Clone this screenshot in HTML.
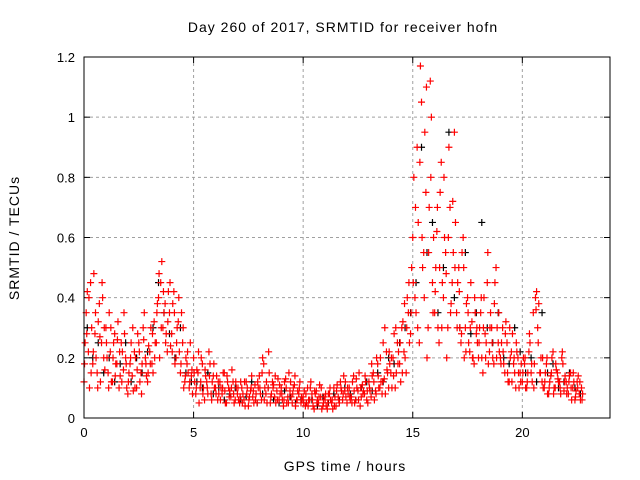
<!DOCTYPE html>
<html><head><meta charset="utf-8"><style>
body{margin:0;background:#fff;}
svg{display:block;font-family:"Liberation Sans",sans-serif;}
</style></head><body>
<svg id="chart" width="640" height="480">
<text x="343" y="32" font-size="14" letter-spacing="1" text-anchor="middle">Day 260 of 2017, SRMTID for receiver hofn</text>
<text x="345" y="471" font-size="14" letter-spacing="1" text-anchor="middle">GPS time / hours</text>
<text transform="translate(19,238) rotate(-90)" font-size="14" letter-spacing="1" text-anchor="middle">SRMTID / TECUs</text>
<g id="grid"></g>
<g id="ticks"></g>
<g id="marks"></g>
<rect x="84" y="57" width="526" height="361" fill="none" stroke="#000" stroke-width="1"/>
</svg>
<script>
const xTicks=[0,5,10,15,20];
const yTicks=[0,0.2,0.4,0.6,0.8,1,1.2];
const yTickLabels=["0","0.2","0.4","0.6","0.8","1","1.2"];
const red1Start=0, red1Step=0.1;
const red1=[.12,.35,.22,.45,.18,.28,.15,.38,.25,.2,
.3,.15,.22,.12,.28,.18,.1,.25,.16,.2,
.08,.18,.14,.22,.1,.25,.15,.3,.2,.12,
.22,.18,.32,.25,.4,.45,.3,.38,.22,.35,
.28,.42,.2,.32,.15,.25,.12,.18,.1,.14,
.2,.08,.15,.1,.18,.06,.12,.22,.08,.14,
.1,.06,.12,.08,.15,.05,.1,.07,.12,.06,
.08,.05,.1,.06,.12,.04,.09,.07,.11,.05,
.14,.06,.18,.08,.1,.05,.12,.07,.09,.06,
.1,.04,.13,.07,.09,.05,.11,.06,.08,.05,
.07,.04,.1,.06,.08,.03,.09,.05,.07,.04,
.06,.03,.08,.05,.1,.04,.07,.12,.06,.09,
.05,.1,.07,.14,.06,.09,.04,.11,.08,.06,
.12,.07,.15,.09,.18,.1,.08,.13,.22,.1,
.15,.2,.1,.25,.18,.3,.22,.15,.35,.28,
.6,.4,.9,.25,1.05,.55,.75,.3,1.12,.45,
.35,.62,.25,.85,.4,.55,.3,.7,.45,.95,
.35,.5,.25,.6,.3,.4,.22,.32,.18,.28,
.2,.35,.15,.28,.45,.22,.3,.18,.5,.25,
.2,.3,.15,.25,.12,.22,.18,.1,.2,.15,
.12,.18,.1,.22,.15,.35,.4,.3,.15,.12,
.1,.18,.08,.14,.22,.1,.15,.12,.2,.09,
.12,.08,.15,.1,.06,.12,.08,.1];
const red2Start=0.05, red2Step=0.1;
const red2=[.25,.42,.1,.3,.48,.2,.32,.12,.4,.16,
.2,.35,.12,.25,.18,.32,.14,.22,.28,.1,
.15,.25,.09,.2,.28,.12,.18,.35,.14,.24,
.3,.15,.25,.38,.2,.52,.35,.28,.42,.24,
.38,.18,.3,.22,.35,.1,.2,.15,.25,.08,
.12,.16,.05,.2,.1,.14,.08,.18,.12,.1,
.14,.08,.1,.15,.05,.12,.09,.16,.05,.1,
.06,.12,.08,.04,.1,.07,.14,.05,.08,.1,
.08,.2,.1,.05,.15,.08,.11,.05,.13,.08,
.06,.12,.05,.15,.07,.1,.04,.09,.12,.06,
.09,.05,.06,.12,.04,.08,.06,.11,.03,.07,
.04,.08,.06,.03,.07,.11,.05,.09,.14,.07,
.08,.06,.12,.05,.1,.15,.07,.09,.12,.05,
.09,.14,.06,.2,.1,.12,.25,.08,.15,.18,
.1,.28,.15,.22,.12,.32,.2,.4,.25,.5,
.8,.35,.65,1.17,.5,.95,.2,.7,1.0,.6,
.5,.3,.75,.45,.6,.2,.9,.38,.55,.65,
.45,.3,.55,.2,.38,.25,.45,.2,.35,.25,
.3,.2,.4,.25,.18,.35,.2,.45,.3,.22,
.25,.18,.32,.12,.2,.28,.15,.22,.1,.18,
.2,.1,.15,.25,.12,.18,.42,.38,.2,.1,
.15,.08,.12,.2,.1,.16,.12,.08,.18,.14,
.1,.14,.06,.12,.09,.14,.06,.08];
const red3Start=0.025, red3Step=0.1;
const red3=[.18,.28,.4,.15,.22,.35,.1,.27,.45,.3,
.25,.1,.3,.2,.14,.26,.22,.12,.35,.18,
.12,.2,.3,.1,.16,.22,.08,.26,.18,.15,
.18,.28,.2,.35,.48,.3,.42,.25,.32,.45,
.22,.35,.25,.4,.18,.3,.14,.22,.12,.16,
.15,.1,.22,.12,.08,.16,.1,.14,.06,.18,
.08,.12,.06,.1,.09,.14,.07,.1,.08,.12,
.1,.07,.05,.12,.08,.06,.1,.09,.06,.12,
.1,.15,.06,.12,.22,.07,.1,.14,.06,.11,
.08,.06,.1,.05,.12,.08,.14,.06,.1,.07,
.05,.08,.04,.1,.06,.09,.05,.07,.1,.05,
.08,.05,.1,.06,.04,.09,.06,.1,.08,.12,
.1,.07,.05,.09,.13,.06,.1,.08,.14,.09,
.1,.18,.12,.08,.14,.2,.12,.3,.16,.22,
.2,.14,.3,.18,.25,.15,.38,.3,.45,.35,
.45,.7,.3,.85,.6,.4,1.1,.55,.8,.35,
.42,.7,.5,.3,.8,.48,.6,.35,.72,.5,
.3,.42,.28,.5,.22,.35,.3,.2,.4,.3,
.25,.4,.3,.2,.55,.3,.25,.38,.2,.35,
.18,.22,.28,.15,.3,.12,.2,.25,.15,.12,
.15,.2,.12,.28,.18,.1,.36,.25,.15,.2,
.12,.2,.1,.15,.08,.18,.13,.1,.22,.12,
.08,.12,.1,.15,.07,.1,.12,.06];
const blackStart=0.15, blackStep=0.25;
const black=[.3,.2,.25,.15,.2,.12,.18,.25,.12,.2,.15,.22,.3,.45,.35,.28,.2,.3,.15,.12,
.12,.1,.15,.08,.1,.06,.08,.1,.06,.07,.12,.05,.08,.1,.06,.05,.09,.07,.05,.06,
.05,.06,.04,.07,.05,.08,.06,.1,.08,.06,.1,.12,.09,.15,.12,.2,.18,.25,.3,.35,
.45,.9,.55,.65,.35,.5,.95,.4,.3,.55,.28,.35,.65,.3,.25,.35,.2,.18,.3,.22,
.15,.2,.12,.35,.15,.18,.1,.12,.15,.1,.08];

const NS="http://www.w3.org/2000/svg";
const X0=84,X1=610,Y0=418,Y1=57;
const xs=v=>X0+(v/24)*(X1-X0);
const ys=v=>Y0-(v/1.2)*(Y0-Y1);
function mk(tag,attrs,parent){const e=document.createElementNS(NS,tag);for(const k in attrs)e.setAttribute(k,attrs[k]);parent.appendChild(e);return e;}
const grid=document.getElementById('grid'),ticks=document.getElementById('ticks'),marks=document.getElementById('marks');
xTicks.forEach(t=>{const x=xs(t);
 const g=mk('line',{x1:x,x2:x,y1:Y1,y2:Y0,stroke:'#a0a0a0','stroke-dasharray':'3,3'},grid);
 
 
 mk('line',{x1:x,x2:x,y1:Y0,y2:Y0-6,stroke:'#000'},ticks);
 mk('line',{x1:x,x2:x,y1:Y1,y2:Y1+6,stroke:'#000'},ticks);
 const l=mk('text',{x:x,y:Y0+19,'font-size':13,'text-anchor':'middle'},ticks);l.textContent=t;
 
 
});
yTicks.forEach((t,i)=>{const y=ys(t);
 const g=mk('line',{x1:X0,x2:X1,y1:y,y2:y,stroke:'#a0a0a0','stroke-dasharray':'3,3'},grid);
 
 
 mk('line',{x1:X0,x2:X0+6,y1:y,y2:y,stroke:'#000'},ticks);
 mk('line',{x1:X1,x2:X1-6,y1:y,y2:y,stroke:'#000'},ticks);
 const l=mk('text',{x:X0-9,y:y+5,'font-size':13,'text-anchor':'end'},ticks);l.textContent=yTickLabels[i];
 
 
});
function plot(arr,start,step,color,name){arr.forEach((v,i)=>{const x=xs(start+i*step),y=ys(v);
 const p=mk('path',{d:`M${x-3.5},${y}h7M${x},${y-3.5}v7`,stroke:color,'stroke-width':1.2,fill:'none'},marks);
 
 
});}
plot(black,blackStart,blackStep,'#000','point-black');
plot(red1,red1Start,red1Step,'#f00','point-red');
plot(red2,red2Start,red2Step,'#f00','point-red');
plot(red3,red3Start,red3Step,'#f00','point-red');
</script>
</body></html>
